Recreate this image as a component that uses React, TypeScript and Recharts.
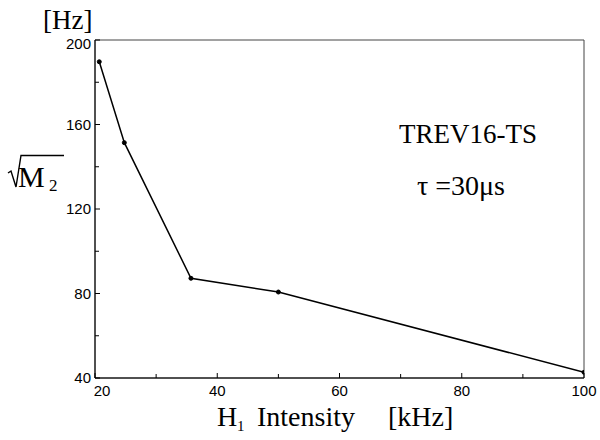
import React from "react";
import { LineChart, Line, XAxis, YAxis, ReferenceArea } from "recharts";

// H1 intensity [kHz] vs sqrt(M2) [Hz]
const intensity = [20.7, 24.8, 35.7, 50, 100];
const sqrtM2 = [189.7, 151.4, 87.2, 80.7, 42.7];

const xTicks = [20, 30, 40, 50, 60, 70, 80, 90, 100];
const xLabeled = [20, 40, 60, 80, 100];
const yTicks = [40, 60, 80, 100, 120, 140, 160, 180, 200];
const yLabeled = [40, 80, 120, 160, 200];

const data = intensity.map((x, i) => ({ x, y: sqrtM2[i] }));

const SANS = "'Liberation Sans', Arial, sans-serif";
const SERIF = "'Liberation Serif', 'Times New Roman', serif";

const X_MARGIN = 7;
const Y_MARGIN = 4;

function XTick(props: any) {
  const { x, y, payload } = props;
  const axisY = y - X_MARGIN;
  const major = xLabeled.includes(payload.value);
  return (
    <g>
      <line x1={x} x2={x} y1={axisY} y2={axisY - (major ? 5 : 4)} stroke="#000" />
      {major && (
        <text
          x={payload.value === 20 ? x + 7 : x}
          y={y}
          dy="0.71em"
          textAnchor="middle"
          fontFamily={SANS}
          fontSize={15}
          fill="#000"
        >
          {payload.value}
        </text>
      )}
    </g>
  );
}

function YTick(props: any) {
  const { x, y, payload } = props;
  const axisX = x + Y_MARGIN;
  const major = yLabeled.includes(payload.value);
  return (
    <g>
      <line x1={axisX} x2={axisX + (major ? 5 : 4)} y1={y} y2={y} stroke="#000" />
      {major && (
        <text
          x={x}
          y={payload.value === 200 ? y + 4 : y}
          dy="0.355em"
          textAnchor="end"
          fontFamily={SANS}
          fontSize={15}
          fill="#000"
        >
          {payload.value}
        </text>
      )}
    </g>
  );
}

export default function App() {
  return (
    <div style={{ position: "absolute", left: 0, top: 0, width: 600, height: 440, background: "#fff" }}>
      <LineChart width={600} height={440} data={data} margin={{ top: 40, right: 16, bottom: 0, left: 0 }}>
        <XAxis
          dataKey="x"
          type="number"
          domain={[20, 100]}
          ticks={xTicks}
          interval={0}
          height={62}
          tickSize={0}
          tickLine={false}
          tickMargin={X_MARGIN}
          tick={<XTick />}
          axisLine={{ stroke: "#000" }}
          allowDataOverflow
        />
        <YAxis
          type="number"
          domain={[40, 200]}
          ticks={yTicks}
          interval={0}
          width={95}
          tickSize={0}
          tickLine={false}
          tickMargin={Y_MARGIN}
          tick={<YTick />}
          axisLine={{ stroke: "#000" }}
          allowDataOverflow
        />
        <ReferenceArea x1={20} x2={100} y1={40} y2={200} fill="none" stroke="#444" strokeWidth={1} />
        <Line
          type="linear"
          dataKey="y"
          stroke="#000"
          strokeWidth={1.5}
          dot={{ r: 2, fill: "#000", stroke: "#000", strokeWidth: 1 }}
          isAnimationActive={false}
        />
      </LineChart>
      <svg
        width={600}
        height={440}
        style={{ position: "absolute", left: 0, top: 0, pointerEvents: "none" }}
      >
        <g fontFamily={SERIF} fill="#000">
          <text x={43} y={29} fontSize={27}>[Hz]</text>
          {/* radical sign with overbar for sqrt(M2) */}
          <path
            d="M8,173 L11,171 L16,187 L21,155.5 L64,155.5"
            fill="none"
            stroke="#000"
            strokeWidth={1.4}
            strokeLinejoin="miter"
          />
          <text x={18} y={187} fontSize={30}>M</text>
          <text x={49} y={191} fontSize={17}>2</text>
          <text x={537} y={143} fontSize={27} textAnchor="end">TREV16-TS</text>
          <text x={505} y={195} fontSize={28} textAnchor="end">τ =30μs</text>
          <text x={217} y={426} fontSize={28}>H</text>
          <text x={237} y={431} fontSize={15}>1</text>
          <text x={257} y={426} fontSize={28}>Intensity</text>
          <text x={388} y={426} fontSize={28}>[kHz]</text>
        </g>
      </svg>
    </div>
  );
}
